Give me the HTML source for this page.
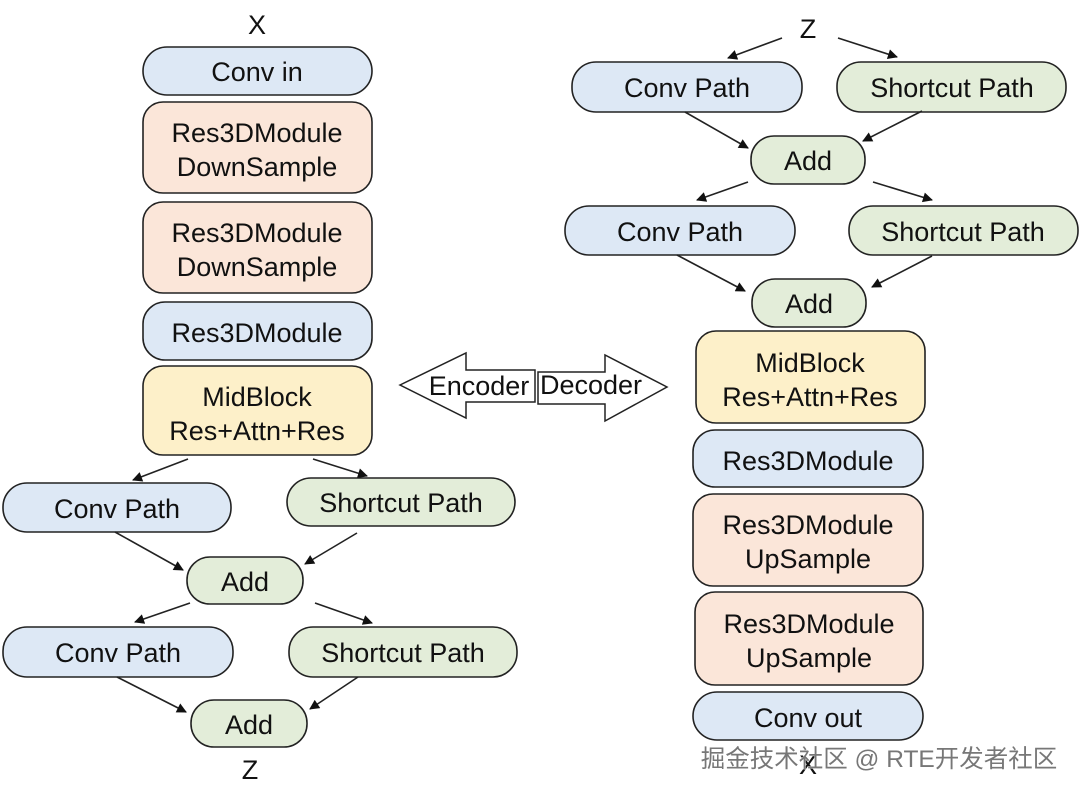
<!DOCTYPE html>
<html><head><meta charset="utf-8"><style>
html,body{margin:0;padding:0;background:#fff;width:1080px;height:794px;overflow:hidden}
svg text{font-family:"Liberation Sans",Arial,sans-serif;font-size:27px;fill:#111;text-anchor:middle}
.b{fill:#dde8f5;stroke:#222;stroke-width:1.6}
.g{fill:#e3edd9;stroke:#222;stroke-width:1.6}
.o{fill:#fbe6d9;stroke:#222;stroke-width:1.6}
.y{fill:#fdf0c9;stroke:#222;stroke-width:1.6}
.a{stroke:#222;stroke-width:1.6;marker-end:url(#m)}
</style></head><body>
<svg width="1080" height="794" viewBox="0 0 1080 794">
<defs><marker id="m" viewBox="0 0 10 10" refX="9" refY="5" markerWidth="11" markerHeight="10" orient="auto" markerUnits="userSpaceOnUse"><path d="M0,0 L10,5 L0,10 z" fill="#111"/></marker></defs>
<!-- left -->
<text x="257" y="34">X</text>
<rect class="b" x="143" y="47" width="229" height="48" rx="24"/><text x="257" y="81">Conv in</text>
<rect class="o" x="143" y="102" width="229" height="91" rx="20"/><text x="257" y="142">Res3DModule</text><text x="257" y="176">DownSample</text>
<rect class="o" x="143" y="202" width="229" height="91" rx="20"/><text x="257" y="242">Res3DModule</text><text x="257" y="276">DownSample</text>
<rect class="b" x="143" y="302" width="229" height="58" rx="22"/><text x="257" y="342">Res3DModule</text>
<rect class="y" x="143" y="366" width="229" height="89" rx="20"/><text x="257" y="406">MidBlock</text><text x="257" y="440">Res+Attn+Res</text>
<line class="a" x1="188" y1="459" x2="133" y2="480"/>
<line class="a" x1="313" y1="459" x2="367" y2="476"/>
<rect class="b" x="3" y="483" width="228" height="49" rx="24"/><text x="117" y="518">Conv Path</text>
<rect class="g" x="287" y="478" width="228" height="48" rx="24"/><text x="401" y="512">Shortcut Path</text>
<line class="a" x1="115" y1="532" x2="183" y2="570"/>
<line class="a" x1="357" y1="533" x2="305" y2="564"/>
<rect class="g" x="187" y="557" width="116" height="47" rx="23"/><text x="245" y="591">Add</text>
<line class="a" x1="190" y1="603" x2="135" y2="622"/>
<line class="a" x1="315" y1="603" x2="372" y2="623"/>
<rect class="b" x="3" y="627" width="230" height="50" rx="24"/><text x="118" y="662">Conv Path</text>
<rect class="g" x="289" y="627" width="228" height="50" rx="24"/><text x="403" y="662">Shortcut Path</text>
<line class="a" x1="117" y1="677" x2="186" y2="712"/>
<line class="a" x1="358" y1="677" x2="310" y2="709"/>
<rect class="g" x="191" y="700" width="116" height="47" rx="23"/><text x="249" y="734">Add</text>
<text x="250" y="779">Z</text>
<!-- middle arrows -->
<polygon points="400,385 466,353 466,370 535,370 535,402 466,402 466,418" fill="#fff" stroke="#222" stroke-width="1.5"/>
<text x="479" y="395">Encoder</text>
<polygon points="538,372 605,372 605,355 667,387 605,421 605,404 538,404" fill="#fff" stroke="#222" stroke-width="1.5"/>
<text x="591" y="394">Decoder</text>
<!-- right -->
<text x="808" y="38">Z</text>
<line class="a" x1="782" y1="38" x2="728" y2="58"/>
<line class="a" x1="838" y1="38" x2="897" y2="57"/>
<rect class="b" x="572" y="62" width="230" height="50" rx="24"/><text x="687" y="97">Conv Path</text>
<rect class="g" x="837" y="62" width="229" height="50" rx="24"/><text x="952" y="97">Shortcut Path</text>
<line class="a" x1="685" y1="112" x2="748" y2="148"/>
<line class="a" x1="922" y1="111" x2="863" y2="141"/>
<rect class="g" x="751" y="136" width="114" height="48" rx="23"/><text x="808" y="170">Add</text>
<line class="a" x1="748" y1="182" x2="697" y2="200"/>
<line class="a" x1="873" y1="182" x2="932" y2="200"/>
<rect class="b" x="565" y="206" width="230" height="49" rx="24"/><text x="680" y="241">Conv Path</text>
<rect class="g" x="849" y="206" width="229" height="49" rx="24"/><text x="963" y="241">Shortcut Path</text>
<line class="a" x1="677" y1="255" x2="745" y2="291"/>
<line class="a" x1="932" y1="256" x2="872" y2="287"/>
<rect class="g" x="752" y="279" width="114" height="48" rx="23"/><text x="809" y="313">Add</text>
<rect class="y" x="696" y="331" width="229" height="92" rx="20"/><text x="810" y="372">MidBlock</text><text x="810" y="406">Res+Attn+Res</text>
<rect class="b" x="693" y="430" width="230" height="57" rx="22"/><text x="808" y="470">Res3DModule</text>
<rect class="o" x="693" y="494" width="230" height="92" rx="20"/><text x="808" y="534">Res3DModule</text><text x="808" y="568">UpSample</text>
<rect class="o" x="695" y="592" width="228" height="93" rx="20"/><text x="809" y="633">Res3DModule</text><text x="809" y="667">UpSample</text>
<rect class="b" x="693" y="692" width="230" height="48" rx="24"/><text x="808" y="727">Conv out</text>
<text x="808" y="774">X</text>
<text x="879" y="767" style="font-family:'Liberation Sans','Noto Sans CJK SC',sans-serif;font-size:24.5px;fill:#777;stroke:#fff;stroke-width:0.6;paint-order:stroke">掘金技术社区 @ RTE开发者社区</text>
</svg>
</body></html>
